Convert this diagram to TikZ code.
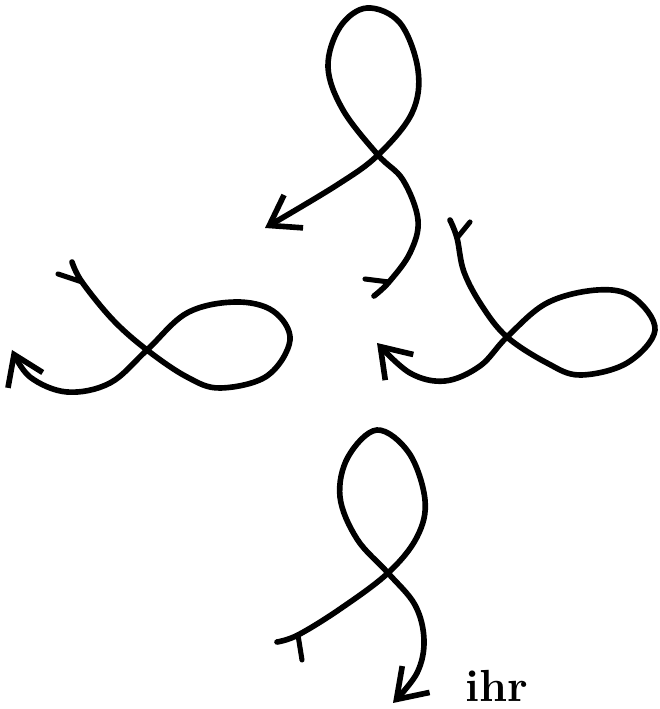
\documentclass[tikz,border=0pt]{standalone}
\usepackage{tikz}
\usetikzlibrary{arrows.meta}

\begin{document}
\begin{tikzpicture}[x=0.25mm,y=0.25mm,>={Straight Barb[length=7mm,width=9.5mm]},line cap=round,line join=round,
  loopline/.style={line width=4pt},
  tailbarb/.style={line width=3.6pt}]
\useasboundingbox (0,0) rectangle (659,709);
% top loop
\coordinate (toptail) at (389,427);
\draw[loopline,->] plot[smooth,tension=0.6] coordinates {(374,413) (toptail) (410,456) (418,489) (403,529) (378,554) (343,599) (328,642) (340,682) (367,701) (400,686) (418,639) (412,596) (378,554) (337,524) (265,481)};
\draw[tailbarb] (toptail) -- (365,430);
% left loop
\coordinate (lefttail) at (82,427);
\draw[loopline,->] plot[smooth,tension=0.6] coordinates {(72,447) (lefttail) (113,389) (147,359) (187,332) (220,321) (267,333) (290,369) (273,398) (235,407) (187,396) (147,359) (110,326) (67,317) (30,332) (12,359)};
\draw[tailbarb] (lefttail) -- (58,435);
% right loop
\coordinate (righttail) at (457,471);
\draw[loopline,->] plot[smooth,tension=0.6] coordinates {(450,489) (righttail) (464,437) (482,403) (507,372) (547,346) (580,334) (627,346) (655,379) (633,412) (597,419) (547,406) (507,372) (480,343) (445,328) (410,336) (377,366)};
\draw[tailbarb] (righttail) -- (470,487);
% bottom loop
\coordinate (bottomtail) at (298,74);
\draw[loopline,->] plot[smooth,tension=0.6] coordinates {(277,67) (bottomtail) (340,100) (388,136) (417,172) (425,209) (409,256) (377,279) (348,252) (340,212) (357,170) (388,136) (415,104) (424,69) (417,36) (393,6)};
\draw[tailbarb] (bottomtail) -- (302,49);
\node[anchor=base west,font=\fontsize{32}{32}\selectfont\bfseries,inner sep=0pt] (ihr) at (465,8) {ihr};
\end{tikzpicture}
\end{document}
